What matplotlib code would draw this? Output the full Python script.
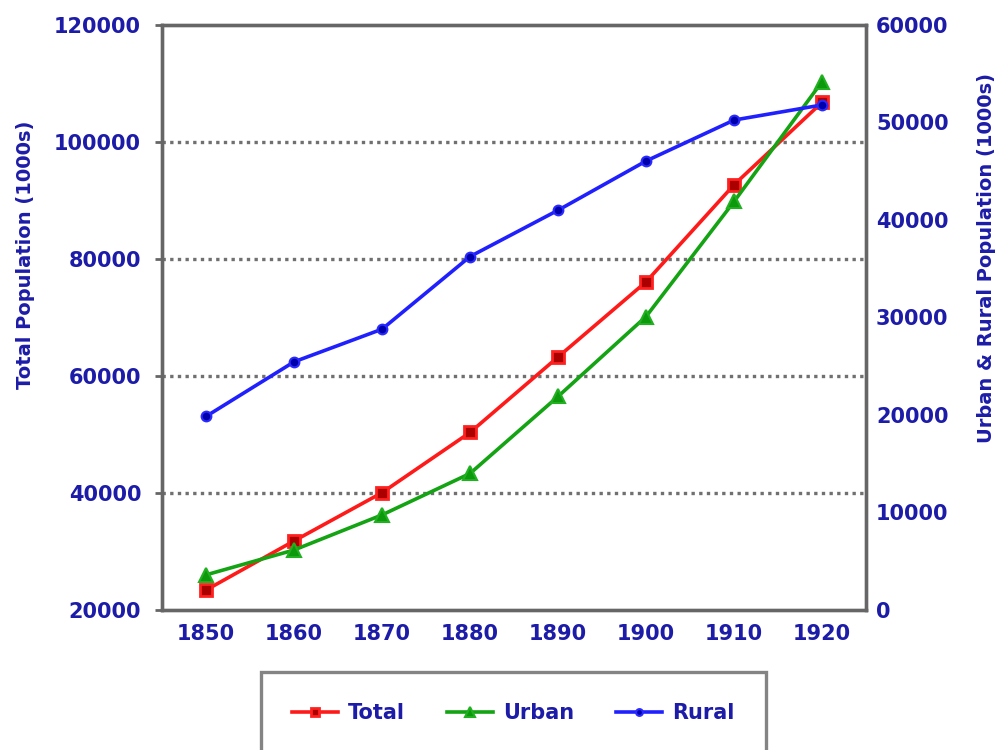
import numpy as np
import matplotlib.pyplot as plt

years = ['1850', '1860', '1870', '1880', '1890', '1900', '1910', '1920']
total = [23400, 31800, 40050, 50350, 63250, 76100, 92700, 106800]
urban = [3600, 6150, 9750, 14000, 21900, 30100, 41900, 54200]
rural = [19850, 25450, 28800, 36250, 41000, 46050, 50250, 51800]

navy = '#1c1ca8'
spine_col = '#666666'
plt.rcParams['font.family'] = ['DejaVu Sans']

fig = plt.figure(figsize=(10.06, 7.5), dpi=100)
ax = fig.add_axes([0.161, 0.1867, 0.700, 0.78])
ax2 = ax.twinx()

x = np.arange(len(years))

# gridlines at left-axis ticks
for v in [40000, 60000, 80000, 100000]:
    ax.axhline(v, color='#707070', lw=2.4, linestyle=(0, (1, 1.3)), zorder=1)

ax.plot(x, total, color='#ff1a1a', lw=2.6, marker='s', ms=9,
        mfc='#aa0000', mec='#ff2020', mew=2, label='Total', zorder=3)
ax2.plot(x, urban, color='#13a313', lw=2.6, marker='^', ms=10,
         mfc='#0c9a0c', mec='#20b020', mew=1.5, label='Urban', zorder=3)
ax2.plot(x, rural, color='#2020ff', lw=2.6, marker='o', ms=7,
         mfc='#0000aa', mec='#2a2aff', mew=1.5, label='Rural', zorder=3)

ax.set_xlim(-0.5, len(years) - 0.5)
ax.set_ylim(20000, 120000)
ax2.set_ylim(0, 60000)
ax.set_yticks(np.arange(20000, 120001, 20000))
ax2.set_yticks(np.arange(0, 60001, 10000))
ax.set_xticks(x)
ax.set_xticklabels(years)

for a in (ax, ax2):
    for s in a.spines.values():
        s.set_color(spine_col)
        s.set_linewidth(2.4)

ax.tick_params(axis='y', direction='out', length=5, width=2, color=spine_col,
               labelsize=15, labelcolor=navy, pad=10)
ax.tick_params(axis='x', length=0, labelsize=15, labelcolor=navy, pad=10)
ax2.tick_params(axis='y', length=0, labelsize=15, labelcolor=navy, pad=7)
for lab in ax.get_yticklabels() + ax.get_xticklabels() + ax2.get_yticklabels():
    lab.set_fontweight('bold')

ax.set_ylabel('Total Population (1000s)', fontsize=14, fontweight='bold',
              color=navy)
ax.yaxis.set_label_coords(-0.181, 0.607)
ax2.set_ylabel('Urban & Rural Population (1000s)', fontsize=14,
               fontweight='bold', color=navy, rotation=90)
ax2.yaxis.set_label_coords(1.158, 0.602)

h1, lb1 = ax.get_legend_handles_labels()
h2, lb2 = ax2.get_legend_handles_labels()
leg = fig.legend(h1 + h2, lb1 + lb2, loc='upper left', ncol=3,
                 bbox_to_anchor=(0.259, 0.104, 0.502, 0.0), mode='expand',
                 borderaxespad=0, frameon=True, fancybox=False, borderpad=1.5,
                 handlelength=2.2, handletextpad=0.5, columnspacing=1.0,
                 markerscale=0.7, prop={'size': 15, 'weight': 'bold'})
leg.get_frame().set_edgecolor(spine_col)
leg.get_frame().set_linewidth(2.4)
for t in leg.get_texts():
    t.set_color(navy)

fig.savefig('out.png', dpi=100)
